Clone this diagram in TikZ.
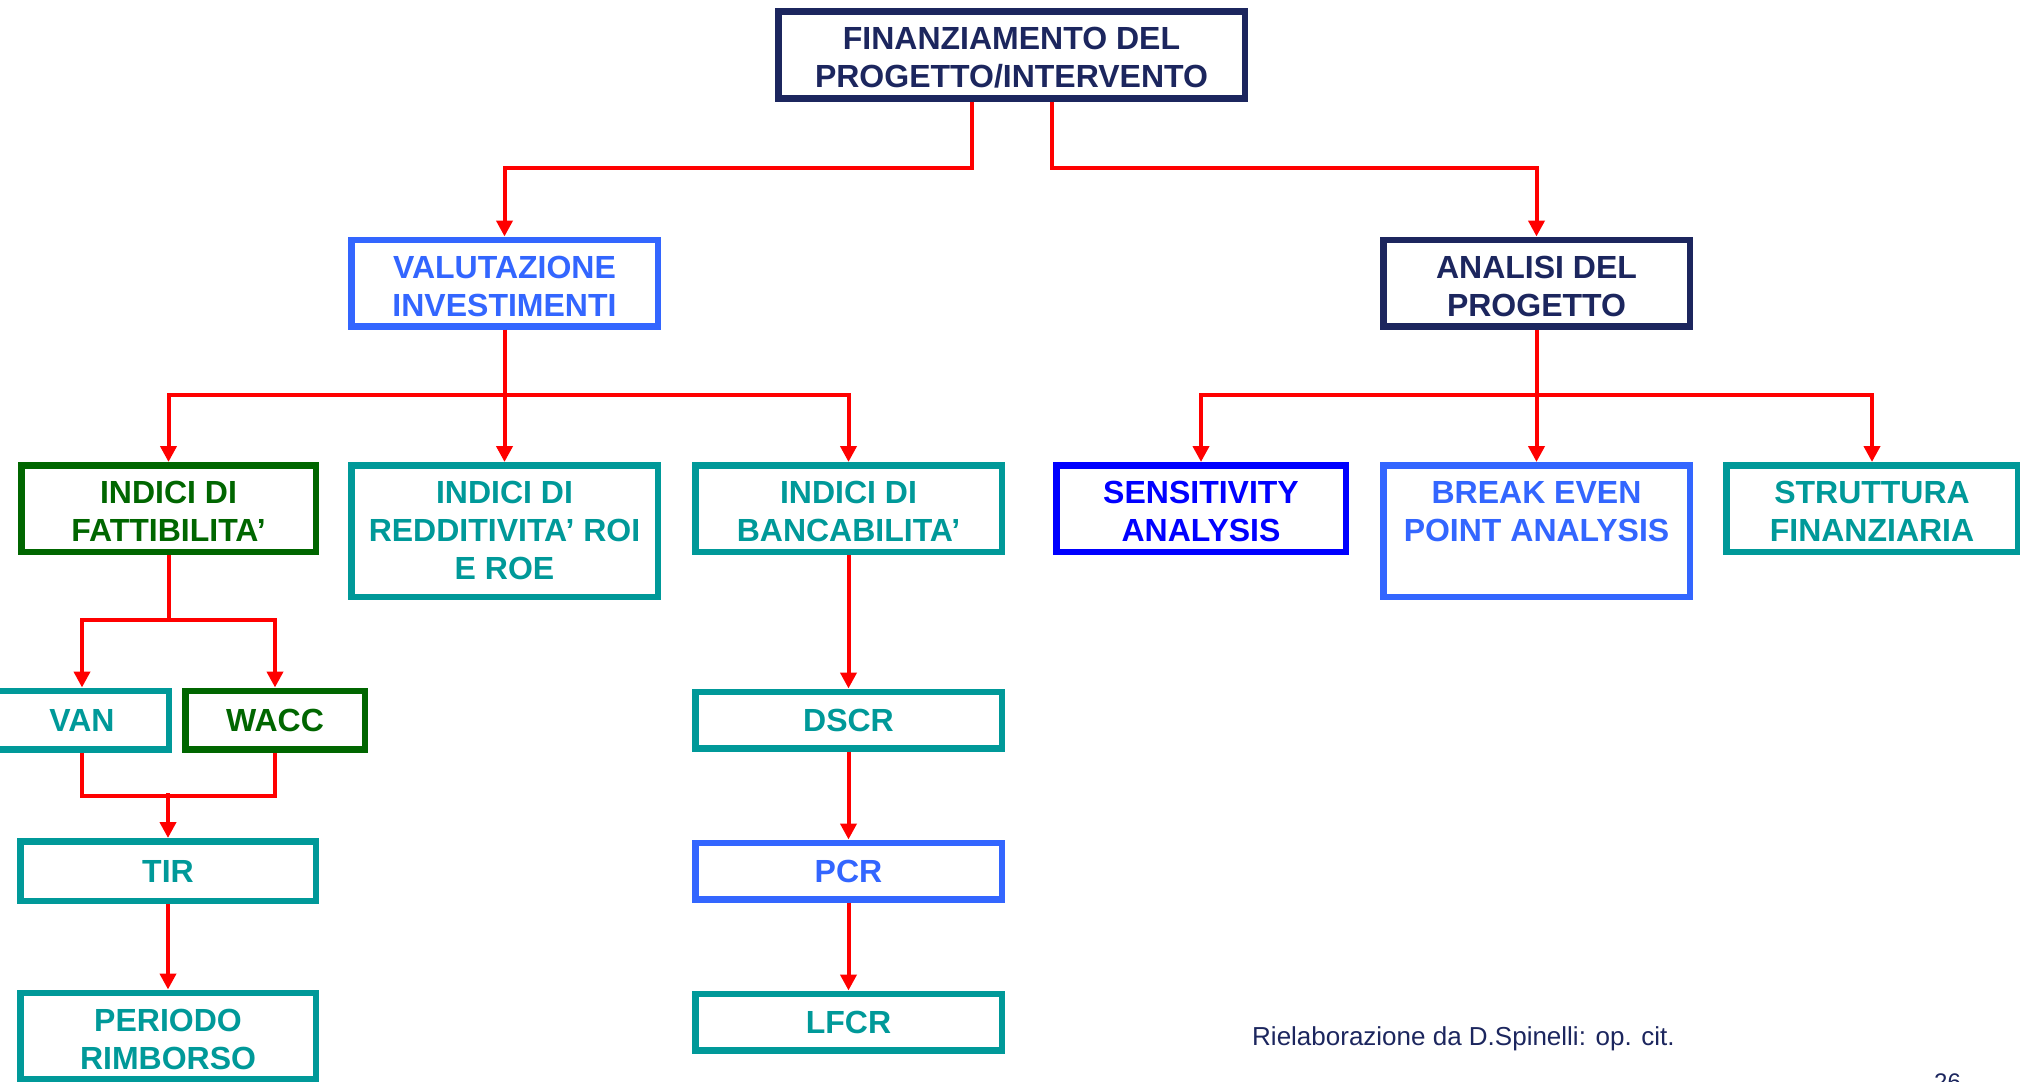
\documentclass[tikz,border=0pt]{standalone}
\usepackage{fontspec}
\setmainfont{Liberation Sans}
\usetikzlibrary{arrows.meta}
\definecolor{navy}{HTML}{1C265E}
\definecolor{lblue}{HTML}{3366FF}
\definecolor{dblue}{HTML}{0000FF}
\definecolor{teal2}{HTML}{009999}
\definecolor{dgreen}{HTML}{006600}
\definecolor{lred}{HTML}{FF0000}
\tikzset{
  box/.style={draw, line width=6.5pt, fill=white, align=center, inner sep=0pt,
    font=\bfseries\fontsize{32}{38}\selectfont},
  two/.style={minimum height=86.5pt, text height=66pt, text depth=0pt},
  three/.style={minimum height=131.5pt, text height=96pt, text depth=0pt},
  one/.style={minimum height=57pt},
  arr/.style={draw=lred, line width=4pt, -{Triangle[width=16pt,length=16pt]}},
  ln/.style={draw=lred, line width=4pt},
}
\begin{document}
\begin{tikzpicture}[x=1pt,y=-1pt]
\useasboundingbox (0,0) rectangle (2020,1081);
% level 1
\node[box, two, draw=navy, text=navy, minimum width=466.5pt] (top) at (1011.5,55) {FINANZIAMENTO DEL\\PROGETTO/INTERVENTO};
% level 2
\node[box, two, draw=lblue, text=lblue, minimum width=306.5pt] (val) at (504.5,283) {VALUTAZIONE\\INVESTIMENTI};
\node[box, two, draw=navy, text=navy, minimum width=306.5pt] (anal) at (1536.5,283) {ANALISI DEL\\PROGETTO};
% level 3
\node[box, two, draw=dgreen, text=dgreen, minimum width=294.5pt] (fatt) at (168.5,508.5) {INDICI DI\\FATTIBILITA’};
\node[box, three, draw=teal2, text=teal2, minimum width=306.5pt] (redd) at (504.5,531) {INDICI DI\\REDDITIVITA’ ROI\\E ROE};
\node[box, two, draw=teal2, text=teal2, minimum width=306.5pt] (banc) at (848.5,508.5) {INDICI DI\\BANCABILITA’};
\node[box, two, draw=dblue, text=dblue, minimum width=289.5pt] (sens) at (1201,508.5) {SENSITIVITY\\ANALYSIS};
\node[box, three, draw=lblue, text=lblue, minimum width=306.5pt] (bep) at (1536.5,531) {BREAK EVEN\\POINT ANALYSIS\\~};
\node[box, two, draw=teal2, text=teal2, minimum width=291.5pt] (strut) at (1872,508.5) {STRUTTURA\\FINANZIARIA};
% level 4
\node[box, one, draw=teal2, text=teal2, minimum width=173.5pt, minimum height=58.5pt] (van) at (82,720) {VAN};
\node[box, one, draw=dgreen, text=dgreen, minimum width=179.5pt, minimum height=58.5pt] (wacc) at (275,720) {WACC};
\node[box, one, draw=teal2, text=teal2, minimum width=295.5pt, minimum height=59.5pt] (tir) at (168,871) {TIR};
\node[box, two, draw=teal2, text=teal2, minimum width=295.5pt] (per) at (168,1036) {PERIODO\\RIMBORSO};
\node[box, one, draw=teal2, text=teal2, minimum width=306.5pt, minimum height=56.5pt] (dscr) at (848.5,720) {DSCR};
\node[box, one, draw=lblue, text=lblue, minimum width=306.5pt, minimum height=56.5pt] (pcr) at (848.5,871) {PCR};
\node[box, one, draw=teal2, text=teal2, minimum width=306.5pt, minimum height=56.5pt] (lfcr) at (848.5,1022) {LFCR};
% connectors
\draw[arr] ([xshift=-39.5pt]top.south) -- ++(0,66) -| (val.north);
\draw[arr] ([xshift=40.5pt]top.south) -- ++(0,66) -| (anal.north);
\draw[ln] (val.south) -- ++(0,65) coordinate (vj);
\draw[arr] (vj) -| (fatt.north);
\draw[arr] (vj) -| (banc.north);
\draw[arr] (val.south) -- (redd.north);
\draw[ln] (anal.south) -- ++(0,65) coordinate (aj);
\draw[arr] (aj) -| (sens.north);
\draw[arr] (aj) -| (strut.north);
\draw[arr] (anal.south) -- (bep.north);
\draw[ln] (fatt.south) -- ++(0,65) coordinate (fj);
\draw[arr] (fj) -| (van.north);
\draw[arr] (fj) -| (wacc.north);
\draw[ln] (van.south) -- ++(0,43) -| (wacc.south);
\draw[arr] (tir.north) ++(0,-45) -- (tir.north);
\draw[arr] (tir.south) -- (per.north);
\draw[arr] (banc.south) -- (dscr.north);
\draw[arr] (dscr.south) -- (pcr.north);
\draw[arr] (pcr.south) -- (lfcr.north);
% footer
\node[anchor=west, inner sep=0pt, text=navy, font=\fontsize{26}{30}\selectfont] (src) at (1252,1039) {Rielaborazione da D.Spinelli: op. cit.};
\node[anchor=base west, inner sep=0pt, text=navy, font=\fontsize{24}{28}\selectfont] (pg) at (1934,1090) {26};
\end{tikzpicture}
\end{document}
